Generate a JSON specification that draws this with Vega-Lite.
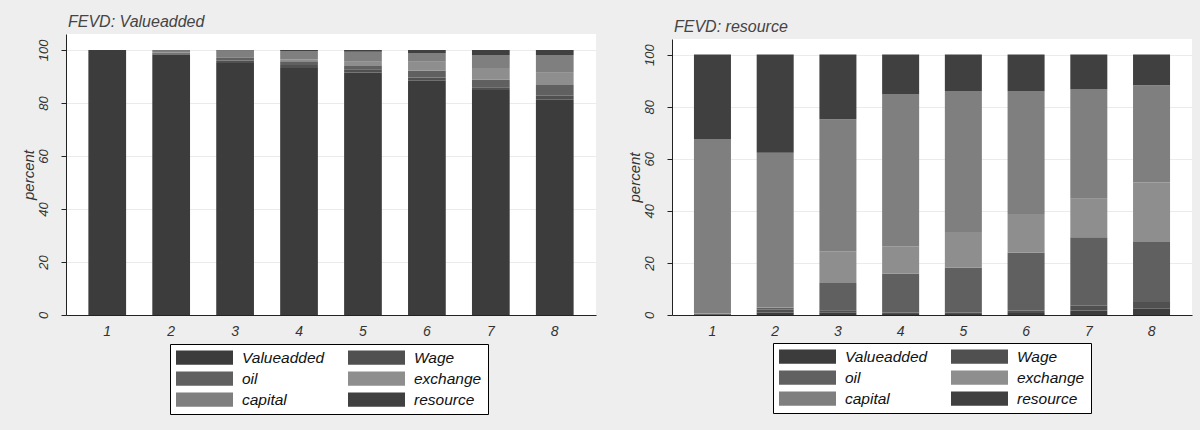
{
  "$schema": "https://vega.github.io/schema/vega-lite/v6.json",
  "background": "#eeeeee",
  "padding": {"left": 21, "top": 11, "right": 8, "bottom": 17},
  "config": {
    "view": {"stroke": null},
    "font": "Liberation Sans",
    "axis": {
      "labelFont": "Liberation Sans", "labelFontStyle": "italic", "labelColor": "#333",
      "titleFont": "Liberation Sans", "titleFontStyle": "italic", "titleFontWeight": "normal", "titleColor": "#333",
      "domainColor": "#222", "tickColor": "#222", "gridColor": "#ebebeb"
    },
    "title": {"font": "Liberation Sans", "fontStyle": "italic", "fontWeight": "normal", "fontSize": 16, "color": "#444", "anchor": "start", "frame": "group"},
    "legend": {
      "orient": "none", "columns": 2, "direction": "horizontal", "title": null,
      "symbolType": "M-1,-0.25H1V0.25H-1Z", "symbolSize": 3249, "symbolStrokeWidth": 0, "clipHeight": 15,
      "rowPadding": 5, "columnPadding": 23, "labelOffset": 9, "padding": 6,
      "strokeColor": "#000", "fillColor": "#fff",
      "labelFont": "Liberation Sans", "labelFontStyle": "italic", "labelFontSize": 15.5, "labelColor": "#111", "labelLimit": 300
    }
  },
  "datasets": {
    "va": [
      {"step": 1, "var": "Valueadded", "k": 1, "pct": 100},
      {"step": 1, "var": "Wage", "k": 2, "pct": 0},
      {"step": 1, "var": "oil", "k": 3, "pct": 0},
      {"step": 1, "var": "exchange", "k": 4, "pct": 0},
      {"step": 1, "var": "capital", "k": 5, "pct": 0},
      {"step": 1, "var": "resource", "k": 6, "pct": 0},
      {"step": 2, "var": "Valueadded", "k": 1, "pct": 98.3},
      {"step": 2, "var": "Wage", "k": 2, "pct": 0.4},
      {"step": 2, "var": "oil", "k": 3, "pct": 0.3},
      {"step": 2, "var": "exchange", "k": 4, "pct": 0.2},
      {"step": 2, "var": "capital", "k": 5, "pct": 0.6},
      {"step": 2, "var": "resource", "k": 6, "pct": 0.2},
      {"step": 3, "var": "Valueadded", "k": 1, "pct": 95.1},
      {"step": 3, "var": "Wage", "k": 2, "pct": 0.9},
      {"step": 3, "var": "oil", "k": 3, "pct": 0.9},
      {"step": 3, "var": "exchange", "k": 4, "pct": 0.4},
      {"step": 3, "var": "capital", "k": 5, "pct": 2.5},
      {"step": 3, "var": "resource", "k": 6, "pct": 0.2},
      {"step": 4, "var": "Valueadded", "k": 1, "pct": 93.2},
      {"step": 4, "var": "Wage", "k": 2, "pct": 1.1},
      {"step": 4, "var": "oil", "k": 3, "pct": 1.4},
      {"step": 4, "var": "exchange", "k": 4, "pct": 0.8},
      {"step": 4, "var": "capital", "k": 5, "pct": 3.1},
      {"step": 4, "var": "resource", "k": 6, "pct": 0.4},
      {"step": 5, "var": "Valueadded", "k": 1, "pct": 91.5},
      {"step": 5, "var": "Wage", "k": 2, "pct": 1.2},
      {"step": 5, "var": "oil", "k": 3, "pct": 1.2},
      {"step": 5, "var": "exchange", "k": 4, "pct": 1.6},
      {"step": 5, "var": "capital", "k": 5, "pct": 3.8},
      {"step": 5, "var": "resource", "k": 6, "pct": 0.7},
      {"step": 6, "var": "Valueadded", "k": 1, "pct": 88.4},
      {"step": 6, "var": "Wage", "k": 2, "pct": 1.2},
      {"step": 6, "var": "oil", "k": 3, "pct": 2.5},
      {"step": 6, "var": "exchange", "k": 4, "pct": 3.4},
      {"step": 6, "var": "capital", "k": 5, "pct": 3.3},
      {"step": 6, "var": "resource", "k": 6, "pct": 1.2},
      {"step": 7, "var": "Valueadded", "k": 1, "pct": 84.9},
      {"step": 7, "var": "Wage", "k": 2, "pct": 1.0},
      {"step": 7, "var": "oil", "k": 3, "pct": 2.9},
      {"step": 7, "var": "exchange", "k": 4, "pct": 4.4},
      {"step": 7, "var": "capital", "k": 5, "pct": 4.9},
      {"step": 7, "var": "resource", "k": 6, "pct": 1.9},
      {"step": 8, "var": "Valueadded", "k": 1, "pct": 81.2},
      {"step": 8, "var": "Wage", "k": 2, "pct": 1.5},
      {"step": 8, "var": "oil", "k": 3, "pct": 4.1},
      {"step": 8, "var": "exchange", "k": 4, "pct": 4.6},
      {"step": 8, "var": "capital", "k": 5, "pct": 6.7},
      {"step": 8, "var": "resource", "k": 6, "pct": 1.9}
    ],
    "res": [
      {"step": 1, "var": "Valueadded", "k": 1, "pct": 0.3},
      {"step": 1, "var": "Wage", "k": 2, "pct": 0.2},
      {"step": 1, "var": "oil", "k": 3, "pct": 0.1},
      {"step": 1, "var": "exchange", "k": 4, "pct": 0.2},
      {"step": 1, "var": "capital", "k": 5, "pct": 66.6},
      {"step": 1, "var": "resource", "k": 6, "pct": 32.6},
      {"step": 2, "var": "Valueadded", "k": 1, "pct": 1.0},
      {"step": 2, "var": "Wage", "k": 2, "pct": 1.0},
      {"step": 2, "var": "oil", "k": 3, "pct": 0.9},
      {"step": 2, "var": "exchange", "k": 4, "pct": 0.2},
      {"step": 2, "var": "capital", "k": 5, "pct": 59.2},
      {"step": 2, "var": "resource", "k": 6, "pct": 37.7},
      {"step": 3, "var": "Valueadded", "k": 1, "pct": 0.9},
      {"step": 3, "var": "Wage", "k": 2, "pct": 0.9},
      {"step": 3, "var": "oil", "k": 3, "pct": 10.5},
      {"step": 3, "var": "exchange", "k": 4, "pct": 12.2},
      {"step": 3, "var": "capital", "k": 5, "pct": 50.7},
      {"step": 3, "var": "resource", "k": 6, "pct": 24.8},
      {"step": 4, "var": "Valueadded", "k": 1, "pct": 0.4},
      {"step": 4, "var": "Wage", "k": 2, "pct": 0.6},
      {"step": 4, "var": "oil", "k": 3, "pct": 14.8},
      {"step": 4, "var": "exchange", "k": 4, "pct": 10.6},
      {"step": 4, "var": "capital", "k": 5, "pct": 58.3},
      {"step": 4, "var": "resource", "k": 6, "pct": 15.3},
      {"step": 5, "var": "Valueadded", "k": 1, "pct": 0.4},
      {"step": 5, "var": "Wage", "k": 2, "pct": 0.6},
      {"step": 5, "var": "oil", "k": 3, "pct": 17.1},
      {"step": 5, "var": "exchange", "k": 4, "pct": 13.8},
      {"step": 5, "var": "capital", "k": 5, "pct": 54.1},
      {"step": 5, "var": "resource", "k": 6, "pct": 14.0},
      {"step": 6, "var": "Valueadded", "k": 1, "pct": 0.8},
      {"step": 6, "var": "Wage", "k": 2, "pct": 0.9},
      {"step": 6, "var": "oil", "k": 3, "pct": 22.2},
      {"step": 6, "var": "exchange", "k": 4, "pct": 14.9},
      {"step": 6, "var": "capital", "k": 5, "pct": 47.2},
      {"step": 6, "var": "resource", "k": 6, "pct": 14.0},
      {"step": 7, "var": "Valueadded", "k": 1, "pct": 1.7},
      {"step": 7, "var": "Wage", "k": 2, "pct": 1.9},
      {"step": 7, "var": "oil", "k": 3, "pct": 26.3},
      {"step": 7, "var": "exchange", "k": 4, "pct": 14.7},
      {"step": 7, "var": "capital", "k": 5, "pct": 42.0},
      {"step": 7, "var": "resource", "k": 6, "pct": 13.4},
      {"step": 8, "var": "Valueadded", "k": 1, "pct": 2.4},
      {"step": 8, "var": "Wage", "k": 2, "pct": 2.6},
      {"step": 8, "var": "oil", "k": 3, "pct": 23.0},
      {"step": 8, "var": "exchange", "k": 4, "pct": 22.9},
      {"step": 8, "var": "capital", "k": 5, "pct": 37.3},
      {"step": 8, "var": "resource", "k": 6, "pct": 11.8}
    ]
  },
  "resolve": {"scale": {"color": "independent", "y": "independent", "x": "independent"}, "legend": {"color": "independent"}},
  "spacing": 31,
  "hconcat": [
    {
      "spacing": 2,
      "resolve": {"scale": {"color": "independent", "y": "independent", "x": "independent"}, "legend": {"color": "independent"}},
      "vconcat": [
        {
          "width": 530,
          "height": 1,
          "data": {"values": []},
          "mark": {"type": "point", "opacity": 0},
          "encoding": {}
        },
        {
          "width": 530,
          "height": 281,
          "view": {"fill": "#ffffff", "stroke": null},
          "title": {"text": "FEVD: Valueadded", "offset": 4, "dx": 2},
          "data": {"name": "va"},
          "mark": {"type": "bar"},
          "encoding": {
            "x": {"field": "step", "type": "ordinal", "scale": {"paddingInner": 0.41, "paddingOuter": 0.35},
                  "axis": {"title": null, "labelAngle": 0, "ticks": false, "labelPadding": 9, "labelFontSize": 14}},
            "y": {"field": "pct", "type": "quantitative", "stack": "zero", "scale": {"domain": [0, 106], "nice": false},
                  "axis": {"title": "percent", "values": [0, 20, 40, 60, 80, 100], "labelAngle": 270, "labelFontSize": 13, "tickSize": 5, "labelPadding": 11, "titleFontSize": 15, "titlePadding": 1, "grid": true}},
            "color": {"field": "var", "type": "nominal",
                      "scale": {"domain": ["Valueadded", "Wage", "oil", "exchange", "capital", "resource"], "range": ["#3c3c3c", "#505050", "#606060", "#8e8e8e", "#7f7f7f", "#404040"]},
                      "legend": {"legendX": 104, "legendY": 310}},
            "order": {"field": "k", "type": "quantitative"}
          }
        }
      ]
    },
    {
      "spacing": 7,
      "resolve": {"scale": {"color": "independent", "y": "independent", "x": "independent"}, "legend": {"color": "independent"}},
      "vconcat": [
        {
          "width": 520,
          "height": 1,
          "data": {"values": []},
          "mark": {"type": "point", "opacity": 0},
          "encoding": {}
        },
        {
          "width": 520,
          "height": 276,
          "view": {"fill": "#ffffff", "stroke": null},
          "title": {"text": "FEVD: resource", "offset": 4, "dx": 2},
          "data": {"name": "res"},
          "mark": {"type": "bar"},
          "encoding": {
            "x": {"field": "step", "type": "ordinal", "scale": {"paddingInner": 0.41, "paddingOuter": 0.35},
                  "axis": {"title": null, "labelAngle": 0, "ticks": false, "labelPadding": 9, "labelFontSize": 14}},
            "y": {"field": "pct", "type": "quantitative", "stack": "zero", "scale": {"domain": [0, 106], "nice": false},
                  "axis": {"title": "percent", "values": [0, 20, 40, 60, 80, 100], "labelAngle": 270, "labelFontSize": 13, "tickSize": 5, "labelPadding": 11, "titleFontSize": 15, "titlePadding": 1, "grid": true}},
            "color": {"field": "var", "type": "nominal",
                      "scale": {"domain": ["Valueadded", "Wage", "oil", "exchange", "capital", "resource"], "range": ["#3c3c3c", "#505050", "#606060", "#8e8e8e", "#7f7f7f", "#404040"]},
                      "legend": {"legendX": 101, "legendY": 304}},
            "order": {"field": "k", "type": "quantitative"}
          }
        }
      ]
    }
  ]
}
